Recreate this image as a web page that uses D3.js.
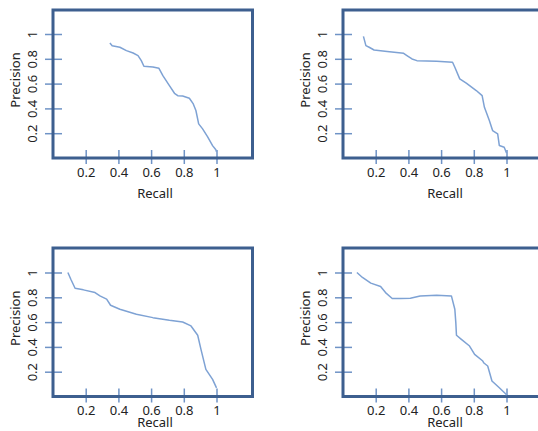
<!DOCTYPE html>
<html>
<head>
<meta charset="utf-8">
<script src="https://cdn.jsdelivr.net/npm/d3@7"></script>
<style>
  body { margin: 0; background: #fff; }
  text { font-family: "Noto Sans", "Open Sans", sans-serif; fill: #222; }
</style>
</head>
<body>
<div id="chart"></div>
<script>
// precision / recall curves, one per panel
const recall1 = [0.348, 0.362, 0.409, 0.449, 0.49, 0.52, 0.54, 0.556, 0.611, 0.648, 0.672, 0.712, 0.743, 0.763, 0.793, 0.834, 0.858, 0.874, 0.891, 0.915, 0.945, 0.976, 0.996, 1.0];
const precision1 = [0.928, 0.906, 0.893, 0.866, 0.847, 0.826, 0.785, 0.74, 0.734, 0.723, 0.664, 0.584, 0.522, 0.503, 0.5, 0.482, 0.436, 0.383, 0.275, 0.235, 0.173, 0.1, 0.066, 0.05];

const recall2 = [0.125, 0.14, 0.16, 0.19, 0.27, 0.371, 0.391, 0.422, 0.452, 0.573, 0.67, 0.684, 0.714, 0.754, 0.815, 0.851, 0.865, 0.895, 0.915, 0.946, 0.956, 0.986, 1.0];
const precision2 = [0.981, 0.906, 0.893, 0.871, 0.858, 0.844, 0.826, 0.799, 0.785, 0.78, 0.772, 0.732, 0.638, 0.603, 0.544, 0.503, 0.409, 0.302, 0.221, 0.195, 0.101, 0.087, 0.04];

const recall3 = [0.091, 0.109, 0.135, 0.186, 0.257, 0.287, 0.328, 0.352, 0.409, 0.51, 0.611, 0.712, 0.793, 0.844, 0.885, 0.905, 0.935, 0.976, 1.0];
const precision3 = [1.0, 0.946, 0.873, 0.86, 0.838, 0.811, 0.785, 0.736, 0.704, 0.663, 0.636, 0.615, 0.601, 0.569, 0.494, 0.38, 0.219, 0.138, 0.07];

const recall4 = [0.085, 0.119, 0.17, 0.23, 0.26, 0.301, 0.351, 0.412, 0.472, 0.573, 0.663, 0.684, 0.69, 0.694, 0.724, 0.774, 0.805, 0.855, 0.862, 0.885, 0.911, 0.956, 0.996, 1.0];
const precision4 = [1.0, 0.96, 0.914, 0.887, 0.838, 0.79, 0.79, 0.793, 0.811, 0.817, 0.811, 0.704, 0.596, 0.494, 0.461, 0.407, 0.34, 0.286, 0.27, 0.246, 0.125, 0.071, 0.02, 0.01];

const tickValues = [0.2, 0.4, 0.6, 0.8, 1];
const xLabel = "Recall", yLabel = "Precision";

// panel placement
const panels = [
  {left: 53,  top: 10,  bottom: 158,   pad: 4, titleDy: 35, recall: recall1, precision: precision1},
  {left: 343, top: 10,  bottom: 158,   pad: 4, titleDy: 35, recall: recall2, precision: precision2},
  {left: 53,  top: 248, bottom: 396.5, pad: 3, titleDy: 26, recall: recall3, precision: precision3},
  {left: 343, top: 248, bottom: 396.5, pad: 3, titleDy: 26, recall: recall4, precision: precision4}
];

const svg = d3.select("#chart").append("svg")
  .attr("width", 538)
  .attr("height", 431);

panels.forEach(function(p) {
  const w = 199.5;
  const x = d3.scaleLinear().domain([0, w / 163.5]).range([p.left, p.left + w]);
  const y = d3.scaleLinear().domain([0, (p.bottom - p.top) / 124]).range([p.bottom, p.top]);
  const g = svg.append("g");

  // x axis ticks straddle the bottom edge
  const xa = g.append("g")
    .attr("transform", `translate(0, ${p.bottom - 8})`)
    .call(d3.axisBottom(x).tickValues(tickValues).tickSize(14).tickPadding(p.pad).tickFormat(d => d));
  xa.select(".domain").remove();
  xa.selectAll("line").attr("stroke", "#6f93c6").attr("stroke-width", 1.5);
  xa.selectAll("text").style("font-size", "13px").attr("fill", "#222");

  // y axis ticks straddle the left edge, labels rotated
  const ya = g.append("g")
    .attr("transform", `translate(${p.left + 9}, 0)`)
    .call(d3.axisLeft(y).tickValues(tickValues).tickSize(17).tickFormat(d => d));
  ya.select(".domain").remove();
  ya.selectAll("line").attr("stroke", "#6f93c6").attr("stroke-width", 1.5);
  ya.selectAll("text")
    .attr("x", null).attr("dy", "0.35em")
    .attr("text-anchor", "middle")
    .attr("transform", "translate(-30,0) rotate(-90)")
    .style("font-size", "13px").attr("fill", "#222");

  // frame
  g.append("rect")
    .attr("x", p.left).attr("y", p.top)
    .attr("width", w).attr("height", p.bottom - p.top)
    .attr("fill", "none")
    .attr("stroke", "#3d5f8f")
    .attr("stroke-width", 3);

  const pts = p.recall.map((r, i) => [r, p.precision[i]]);
  g.append("path")
    .datum(pts)
    .attr("fill", "none")
    .attr("stroke", "#7ea2d4")
    .attr("stroke-width", 1.5)
    .attr("stroke-linejoin", "round")
    .attr("d", d3.line().x(d => x(d[0])).y(d => y(d[1])));

  g.append("text")
    .attr("x", p.left + 102).attr("y", p.bottom + p.titleDy)
    .attr("dy", "0.35em")
    .attr("text-anchor", "middle")
    .style("font-size", "13px")
    .text(xLabel);

  g.append("text")
    .attr("transform", `translate(${p.left - 38}, ${(p.top + p.bottom) / 2 - 4}) rotate(-90)`)
    .attr("dy", "0.35em")
    .attr("text-anchor", "middle")
    .style("font-size", "13px")
    .text(yLabel);
});
</script>
</body>
</html>
